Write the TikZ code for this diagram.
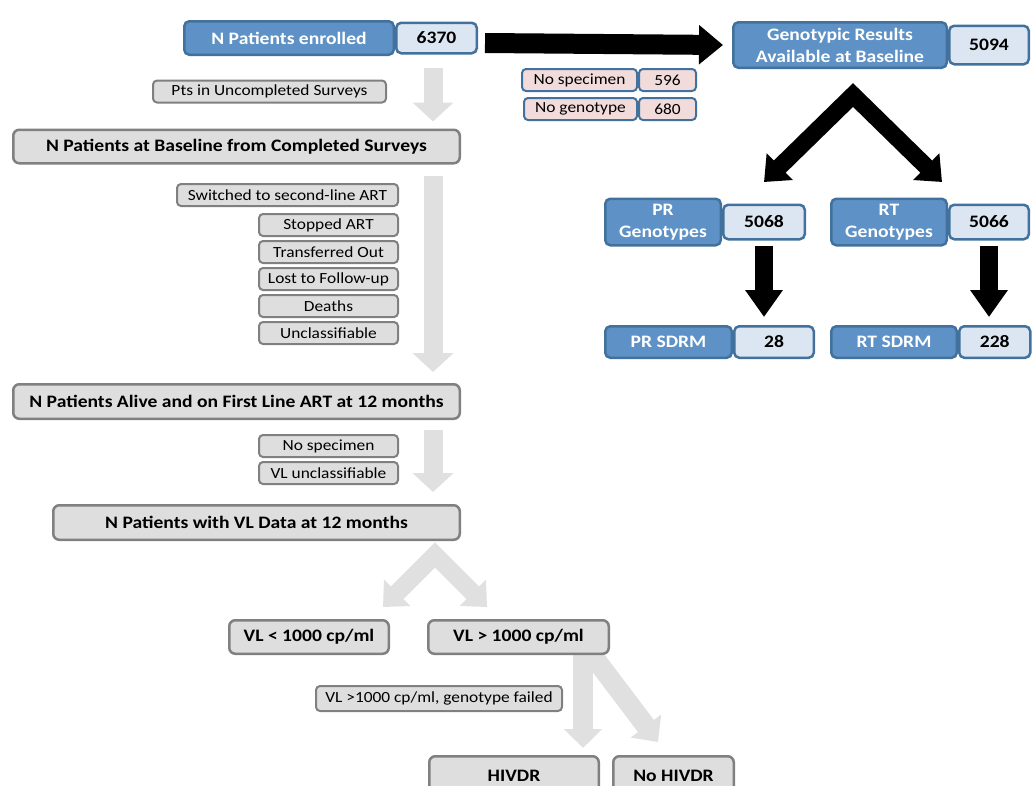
\documentclass[tikz,border=0pt]{standalone}
\usepackage{fontspec}
\setmainfont{Carlito}[FakeStretch=1.12]
\usetikzlibrary{positioning,arrows.meta,backgrounds}

\definecolor{boxblue}{RGB}{94,146,198}
\definecolor{edgeblue}{RGB}{65,113,156}
\definecolor{numblue}{RGB}{220,230,242}
\definecolor{notepink}{RGB}{242,220,219}
\definecolor{boxgray}{RGB}{222,222,222}
\definecolor{edgegray}{RGB}{128,128,128}
\definecolor{arrgray}{RGB}{224,224,224}

\tikzset{
  bluebox/.style={draw=edgeblue, fill=boxblue, line width=2.5pt, rounded corners=5pt, text=white, align=center, inner sep=0pt, font=\bfseries\fontsize{17.5}{22}\selectfont},
  numbox/.style={draw=edgeblue, fill=numblue, line width=2.5pt, rounded corners=5pt, inner sep=0pt, font=\bfseries\fontsize{17.5}{22}\selectfont},
  pinkbox/.style={draw=edgeblue, fill=notepink, line width=2pt, rounded corners=4pt, inner sep=0pt, minimum height=22pt, font=\fontsize{15.5}{18}\selectfont},
  notebox/.style={draw=edgegray, fill=boxgray, line width=2pt, rounded corners=4pt, inner sep=0pt, minimum height=22pt, font=\fontsize{15.5}{18}\selectfont},
  stagebox/.style={draw=edgegray, fill=boxgray, line width=2.5pt, rounded corners=6pt, inner sep=0pt, font=\bfseries\fontsize{17.5}{22}\selectfont},
  blkarrow/.style={draw=black, line width=20pt, -{Triangle[width=38pt,length=24pt]}},
  blkchevron/.style={draw=black, line width=17pt, line join=miter, {Triangle[width=36pt,length=22pt]}-{Triangle[width=36pt,length=22pt]}},
  gryarrow/.style={draw=arrgray, line width=19pt, -{Triangle[width=40pt,length=19pt]}},
  grychevron/.style={draw=arrgray, line width=18pt, line join=miter, {Triangle[width=36pt,length=20pt]}-{Triangle[width=36pt,length=20pt]}}
}

\begin{document}
\begin{tikzpicture}[x=1pt,y=-1pt]
\useasboundingbox (0,0) rectangle (1032,785);

% baseline genotyping
\node[bluebox, minimum width=209.5pt, minimum height=33.5pt] (enr) at (289,38) {N Patients enrolled};
\node[numbox, minimum width=80.5pt, minimum height=30.5pt, right=0pt of enr] (enrN) {6370};
\node[bluebox, minimum width=213.5pt, minimum height=45.5pt] (geno) at (840,45) {Genotypic Results\\Available at Baseline};
\node[numbox, minimum width=79.5pt, minimum height=38.5pt, right=0pt of geno] (genoN) {5094};
\node[pinkbox, minimum width=115pt] (nospec) at (579.5,80) {No specimen};
\node[pinkbox, minimum width=57pt, right=0pt of nospec] (nospecN) {596};
\node[pinkbox, minimum width=113pt] (nogeno) at (580.5,109) {No genotype};
\node[pinkbox, minimum width=57pt, right=0pt of nogeno] (nogenoN) {680};

\node[bluebox, minimum width=115.5pt, minimum height=46.5pt] (prg) at (663,222) {PR\\Genotypes};
\node[numbox, minimum width=81.5pt, minimum height=34.5pt, right=0pt of prg] (prgN) {5068};
\node[bluebox, minimum width=115.5pt, minimum height=46.5pt] (rtg) at (889,222) {RT\\Genotypes};
\node[numbox, minimum width=79.5pt, minimum height=34.5pt, right=0pt of rtg] (rtgN) {5066};
\node[bluebox, minimum width=126.5pt, minimum height=31.5pt] (prs) at (668.5,342) {PR SDRM};
\node[numbox, minimum width=79.5pt, minimum height=31.5pt, right=0pt of prs] (prsN) {28};
\node[bluebox, minimum width=125.5pt, minimum height=31.5pt] (rts) at (894,342) {RT SDRM};
\node[numbox, minimum width=71pt, minimum height=31.5pt, right=0pt of rts] (rtsN) {228};

% follow-up cascade
\node[notebox, minimum width=233pt] (pts) at (269.5,91.5) {Pts in Uncompleted Surveys};
\node[stagebox, minimum width=446.5pt, minimum height=33.5pt] (base) at (236.5,146.5) {N Patients at Baseline from Completed Surveys};
\node[notebox, minimum width=221pt] (switch) at (287.5,195) {Switched to second-line ART};
\node[notebox, minimum width=139pt] (stop) at (328.5,225) {Stopped ART};
\node[notebox, minimum width=139pt, below=3pt of stop] (trans) {Transferred Out};
\node[notebox, minimum width=139pt, below=3pt of trans] (lost) {Lost to Follow-up};
\node[notebox, minimum width=139pt, below=3pt of lost] (death) {Deaths};
\node[notebox, minimum width=139pt, below=3pt of death] (uncl) {Unclassifiable};
\node[stagebox, minimum width=446.5pt, minimum height=34.5pt] (alive) at (236.5,401.5) {N Patients Alive and on First Line ART at 12 months};
\node[notebox, minimum width=139pt] (nosp) at (328.5,446) {No specimen};
\node[notebox, minimum width=139pt, below=3pt of nosp] (vlun) {VL unclassifiable};
\node[stagebox, minimum width=406.5pt, minimum height=34.5pt] (vldata) at (256.5,522.5) {N Patients with VL Data at 12 months};
\node[stagebox, minimum width=159.5pt, minimum height=33.5pt] (vllo) at (309,637) {VL < 1000 cp/ml};
\node[stagebox, minimum width=180.5pt, minimum height=33.5pt] (vlhi) at (518.5,637) {VL > 1000 cp/ml};
\node[notebox, minimum width=246pt, minimum height=25pt] (fail) at (439,698.5) {VL >1000 cp/ml, genotype failed};
\node[stagebox, minimum width=169.5pt, minimum height=39.5pt] (hiv) at (514,776) {HIVDR};
\node[stagebox, minimum width=120.5pt, minimum height=39.5pt] (nohiv) at (673.5,776) {No HIVDR};

\coordinate (gx) at (433,68);
\coordinate (peak) at (853,95);
\coordinate (prtip) at (764,182);
\coordinate (rttip) at (942,182);
\coordinate (vlpeak) at (435,555);
\coordinate (lotip) at (383,607);
\coordinate (hitip) at (487,607);
\coordinate (gy) at (583,655);
\coordinate (gz) at (590,652);
\coordinate (nohivtip) at (658,742);

\begin{scope}[on background layer]
  \draw[blkarrow] ([xshift=7pt,yshift=-5pt]enrN.east) -- ([xshift=-9pt]geno.west);
  \draw[blkchevron] (prtip) -- (peak) -- (rttip);
  \draw[blkarrow, line width=18pt, -{Triangle[width=36pt,length=27pt]}, shorten <=5pt, shorten >=8pt] (prgN.south) -- (prgN.south |- prs.north);
  \draw[blkarrow, line width=18pt, -{Triangle[width=36pt,length=27pt]}, shorten <=5pt, shorten >=8pt] (rtgN.south) -- (rtgN.south |- rts.north);

  \draw[gryarrow, shorten >=7pt] (gx) -- (gx |- base.north);
  \draw[gryarrow, shorten <=11pt, shorten >=11pt] (gx |- base.south) -- (gx |- alive.north);
  \draw[gryarrow, shorten <=10pt, shorten >=12pt] (gx |- alive.south) -- (gx |- vldata.north);
  \draw[grychevron] (lotip) -- (vlpeak) -- (hitip);
  \draw[gryarrow, line width=20pt, -{Triangle[width=37pt,length=19pt]}, shorten >=7pt] (gy) -- (gy |- hiv.north);
  \draw[gryarrow, line width=20pt, -{Triangle[width=37pt,length=20pt]}] (gz) -- (nohivtip);
\end{scope}
\end{tikzpicture}
\end{document}
